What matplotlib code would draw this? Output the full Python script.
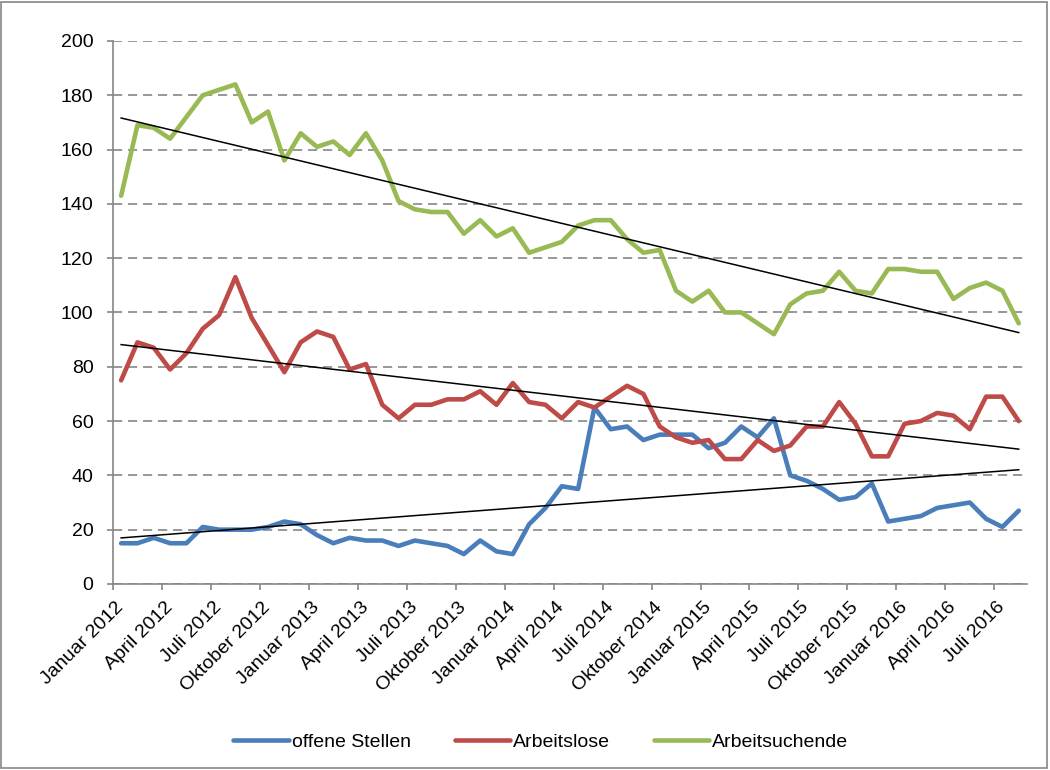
import matplotlib.pyplot as plt
import numpy as np
from matplotlib.patches import Rectangle

plt.rcParams['font.family'] = ['Liberation Sans', 'DejaVu Sans']

MONTHS = ['Januar', 'Februar', 'März', 'April', 'Mai', 'Juni', 'Juli', 'August',
          'September', 'Oktober', 'November', 'Dezember']
month_labels = [f'{MONTHS[i % 12]} {2012 + i // 12}' for i in range(56)]

offene_stellen = [15, 15, 17, 15, 15, 21, 20, 20, 20, 21, 23, 22,
                  18, 15, 17, 16, 16, 14, 16, 15, 14, 11, 16, 12,
                  11, 22, 28, 36, 35, 65, 57, 58, 53, 55, 55, 55,
                  50, 52, 58, 54, 61, 40, 38, 35, 31, 32, 37, 23,
                  24, 25, 28, 29, 30, 24, 21, 27]
arbeitslose = [75, 89, 87, 79, 85, 94, 99, 113, 98, 88, 78, 89,
               93, 91, 79, 81, 66, 61, 66, 66, 68, 68, 71, 66,
               74, 67, 66, 61, 67, 65, 69, 73, 70, 58, 54, 52,
               53, 46, 46, 53, 49, 51, 58, 58, 67, 59, 47, 47,
               59, 60, 63, 62, 57, 69, 69, 60]
arbeitsuchende = [143, 169, 168, 164, 172, 180, 182, 184, 170, 174, 156, 166,
                  161, 163, 158, 166, 156, 141, 138, 137, 137, 129, 134, 128,
                  131, 122, 124, 126, 132, 134, 134, 127, 122, 123, 108, 104,
                  108, 100, 100, 96, 92, 103, 107, 108, 115, 108, 107, 116,
                  116, 115, 115, 105, 109, 111, 108, 96]

series = [
    ('offene Stellen', offene_stellen, '#4A7EBB'),
    ('Arbeitslose', arbeitslose, '#BE4B48'),
    ('Arbeitsuchende', arbeitsuchende, '#98B954'),
]

FS = 14

fig = plt.figure(figsize=(10.5, 7.7), dpi=100)
ax = fig.add_axes([0.1076, 0.2416, 0.8704, 0.7052])
x = np.arange(len(month_labels))

for name, vals, color in series:
    ax.plot(x, vals, color=color, linewidth=3.3, label=name, zorder=3,
            solid_joinstyle='round', solid_capstyle='round')

# linear trend lines
for name, vals, color in series:
    k, d = np.polyfit(x, vals, 1)
    ax.plot(x, k * x + d, color='black', linewidth=1.1, zorder=4)

ax.set_xlim(-0.5, len(x) - 0.5)
ax.set_ylim(0, 200)
ax.set_yticks(range(0, 201, 20))
ax.yaxis.grid(True, color='#868686', linestyle=(0, (5.5, 3.5)), linewidth=1.2)
ax.set_axisbelow(True)

# category boundaries as tick marks, labels on every third month
ax.set_xticks(np.arange(-0.5, len(x), 3))
ax.set_xticklabels([])
ax.set_xticks(x[::3], minor=True)
ax.set_xticklabels([month_labels[i] for i in x[::3]], minor=True, rotation=45,
                   ha='right', va='center', rotation_mode='anchor', fontsize=FS)
ax.tick_params(axis='x', which='minor', length=0, pad=15)
ax.tick_params(axis='x', which='major', length=4, color='#868686', width=1.2)
ax.tick_params(axis='y', length=4, color='#868686', width=1.2, labelsize=FS, pad=10)

for side in ['top', 'right']:
    ax.spines[side].set_visible(False)
for side in ['left', 'bottom']:
    ax.spines[side].set_color('#868686')
    ax.spines[side].set_linewidth(1.2)

leg_handles, leg_labels = ax.get_legend_handles_labels()
fig.legend(leg_handles, leg_labels, loc='center', bbox_to_anchor=(0.515, 0.036),
           ncol=3, frameon=False, fontsize=FS, handlelength=2.85,
           handletextpad=0.15, columnspacing=2.25)

fig.patches.append(Rectangle((0.001, 0.002), 0.996, 0.995, transform=fig.transFigure,
                             fill=False, edgecolor='#868686', linewidth=1.2))

fig.savefig('out.png', dpi=100)
